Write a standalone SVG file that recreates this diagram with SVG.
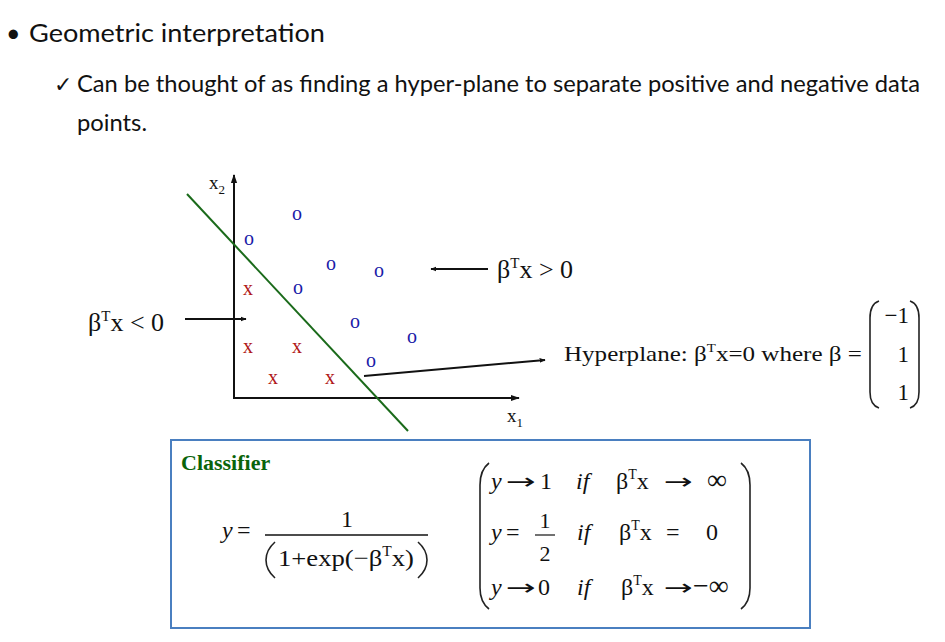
<svg xmlns="http://www.w3.org/2000/svg" width="945" height="642" viewBox="0 0 945 642">
<defs>
<style>
.sans{font-family:Lato,"Open Sans","Liberation Sans",sans-serif;fill:#111}
.m{font-family:"Liberation Serif","Times New Roman",serif;fill:#111}
.it{font-style:italic}
.ar{font-family:"DejaVu Sans",sans-serif;fill:#111;font-size:22px}
.o{font-family:"Liberation Serif",serif;fill:#1a1aa8;font-size:20px;text-anchor:middle}
.x{font-family:"Liberation Serif",serif;fill:#b01818;font-size:20px;text-anchor:middle}
.ln{stroke:#111;stroke-width:2;fill:none}
.par{stroke:#222;stroke-width:1.6;fill:none}
</style>
<marker id="ah" viewBox="0 0 10 10" refX="9" refY="5" markerWidth="6" markerHeight="6" orient="auto" markerUnits="userSpaceOnUse">
<path d="M0,1 L10,5 L0,9 Z" fill="#111"/>
</marker>
<marker id="ahb" viewBox="0 0 10 10" refX="9" refY="5" markerWidth="9" markerHeight="9" orient="auto" markerUnits="userSpaceOnUse">
<path d="M0,1.5 L10,5 L0,8.5 Z" fill="#111"/>
</marker>
</defs>
<rect width="945" height="642" fill="#ffffff"/>

<g id="header">
<text x="6" y="42" class="sans" font-size="25">•</text>
<text x="29" y="42" class="sans" font-size="25" textLength="296" lengthAdjust="spacingAndGlyphs">Geometric interpretation</text>
<text x="54" y="92" class="sans" font-size="22">✓</text>
<text x="77" y="92" class="sans" font-size="23" textLength="843" lengthAdjust="spacingAndGlyphs">Can be thought of as finding a hyper-plane to separate positive and negative data</text>
<text x="77" y="131" class="sans" font-size="23" textLength="70" lengthAdjust="spacingAndGlyphs">points.</text>
</g>

<g id="axes">
<line x1="234" y1="398" x2="234" y2="175" class="ln" marker-end="url(#ahb)"/>
<line x1="233" y1="398" x2="519" y2="398" class="ln" marker-end="url(#ahb)"/>
<text x="209" y="189" class="m" font-size="19">x<tspan font-size="13" dy="5">2</tspan></text>
<text x="507" y="422" class="m" font-size="19">x<tspan font-size="13" dy="5">1</tspan></text>
</g>

<g id="hyperplane-line">
<line x1="187" y1="194" x2="408" y2="431" stroke="#1a6a1a" stroke-width="2"/>
</g>

<g id="points">
<text x="297" y="220" class="o">o</text>
<text x="249" y="245" class="o">o</text>
<text x="331" y="270" class="o">o</text>
<text x="379" y="277" class="o">o</text>
<text x="298" y="294" class="o">o</text>
<text x="355" y="328" class="o">o</text>
<text x="412" y="343" class="o">o</text>
<text x="371" y="367" class="o">o</text>
<text x="248" y="295" class="x">x</text>
<text x="248" y="353" class="x">x</text>
<text x="297" y="353" class="x">x</text>
<text x="273" y="384" class="x">x</text>
<text x="330" y="384" class="x">x</text>
</g>

<g id="connectors">
<line x1="488" y1="269" x2="431" y2="269" class="ln" stroke-width="1.6" marker-end="url(#ah)"/>
<line x1="185" y1="319" x2="246" y2="319" class="ln" stroke-width="1.6" marker-end="url(#ah)"/>
<line x1="364" y1="376" x2="545" y2="360" class="ln" stroke-width="1.6" marker-end="url(#ah)"/>
</g>

<g id="label-pos">
<text x="497" y="278" class="m" font-size="26">β<tspan font-size="15" dy="-10">T</tspan><tspan dy="10">x &gt; 0</tspan></text>
</g>
<g id="label-neg">
<text x="88" y="331" class="m" font-size="26">β<tspan font-size="15" dy="-10">T</tspan><tspan dy="10">x &lt; 0</tspan></text>
</g>

<g id="label-hyperplane">
<text x="564" y="361" class="m" font-size="22" textLength="298" lengthAdjust="spacingAndGlyphs">Hyperplane:  β<tspan font-size="13" dy="-9">T</tspan><tspan dy="9">x=0 where β =</tspan></text>
<path d="M879,301 Q870,304 870,318 L870,392 Q870,405 879,408" class="par"/>
<path d="M910,301 Q919,304 919,318 L919,392 Q919,405 910,408" class="par"/>
<text x="909" y="323" class="m" font-size="23" text-anchor="end">−1</text>
<text x="909" y="362" class="m" font-size="23" text-anchor="end">1</text>
<text x="909" y="400" class="m" font-size="23" text-anchor="end">1</text>
</g>

<g id="classifier">
<rect x="171" y="440" width="639" height="188" fill="#ffffff" stroke="#4a7fc0" stroke-width="2"/>
<text x="181" y="470" font-family="'Liberation Serif',serif" font-weight="bold" font-size="22" fill="#0a640a">Classifier</text>

<text x="222" y="538" class="m it" font-size="24">y</text>
<text x="237" y="538" class="m" font-size="24">=</text>
<text x="341" y="527" class="m" font-size="24">1</text>
<line x1="265" y1="535" x2="428" y2="535" stroke="#111" stroke-width="1.3"/>
<path d="M275,542 Q266,550 266,560 Q266,570 275,578" class="par"/>
<path d="M418,542 Q427,550 427,560 Q427,570 418,578" class="par"/>
<text x="278" y="566" class="m" font-size="24" textLength="136" lengthAdjust="spacingAndGlyphs">1+exp(−β<tspan font-size="14" dy="-10">T</tspan><tspan dy="10">x)</tspan></text>

<path d="M489,463 Q480,470 480,485 L480,588 Q480,602 489,609" class="par"/>
<path d="M741,463 Q750,470 750,485 L750,588 Q750,602 741,609" class="par"/>

<text x="491" y="489" class="m it" font-size="24">y</text>
<text x="506" y="489" class="ar" textLength="30" lengthAdjust="spacingAndGlyphs">→</text>
<text x="540" y="489" class="m" font-size="24">1</text>
<text x="576" y="489" class="m it" font-size="24">if</text>
<text x="616" y="489" class="m" font-size="24">β<tspan font-size="14" dy="-10">T</tspan><tspan dy="10">x</tspan></text>
<text x="664" y="489" class="ar" textLength="29" lengthAdjust="spacingAndGlyphs">→</text>
<text x="707" y="489" class="m" font-size="28">∞</text>

<text x="491" y="540" class="m it" font-size="24">y</text>
<text x="506" y="540" class="m" font-size="24">=</text>
<text x="545" y="528" class="m" font-size="22" text-anchor="middle">1</text>
<line x1="535" y1="535" x2="555" y2="535" stroke="#111" stroke-width="1.2"/>
<text x="545" y="561" class="m" font-size="22" text-anchor="middle">2</text>
<text x="577" y="540" class="m it" font-size="24">if</text>
<text x="619" y="540" class="m" font-size="24">β<tspan font-size="14" dy="-10">T</tspan><tspan dy="10">x</tspan></text>
<text x="666" y="540" class="m" font-size="24">=</text>
<text x="706" y="540" class="m" font-size="24">0</text>

<text x="491" y="595" class="m it" font-size="24">y</text>
<text x="506" y="595" class="ar" textLength="30" lengthAdjust="spacingAndGlyphs">→</text>
<text x="538" y="595" class="m" font-size="24">0</text>
<text x="577" y="595" class="m it" font-size="24">if</text>
<text x="621" y="595" class="m" font-size="24">β<tspan font-size="14" dy="-10">T</tspan><tspan dy="10">x</tspan></text>
<text x="664" y="595" class="ar" textLength="29" lengthAdjust="spacingAndGlyphs">→</text>
<text x="693" y="595" class="m" font-size="28">−∞</text>
</g>
</svg>
